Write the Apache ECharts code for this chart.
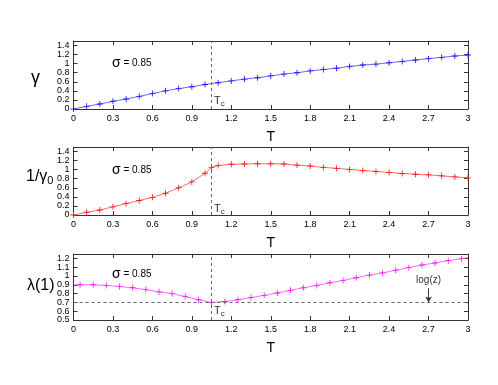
<!DOCTYPE html>
<html><head><meta charset="utf-8">
<script src="https://cdn.jsdelivr.net/npm/echarts@6/dist/echarts.min.js"></script>
<style>html,body{margin:0;padding:0;background:#fff}#c{width:498px;height:385px}</style>
</head><body><div id="c"></div>
<script>
// ---- data ----
var tGamma = [0,0.1,0.2,0.3,0.4,0.5,0.6,0.7,0.8,0.9,1.0,1.1,1.2,1.3,1.4,1.5,1.6,1.7,1.8,1.9,2.0,2.1,2.2,2.3,2.4,2.5,2.6,2.7,2.8,2.9,3.0];
var gamma = [0,0.059,0.11,0.17,0.22,0.28,0.34,0.40,0.45,0.49,0.54,0.58,0.62,0.66,0.69,0.73,0.77,0.80,0.84,0.87,0.90,0.94,0.97,0.99,1.02,1.05,1.08,1.11,1.14,1.17,1.19];
var tInv = [0,0.1,0.2,0.3,0.4,0.5,0.6,0.7,0.8,0.9,1.0,1.05,1.1,1.2,1.3,1.4,1.5,1.6,1.7,1.8,1.9,2.0,2.1,2.2,2.3,2.4,2.5,2.6,2.7,2.8,2.9,3.0];
var invGamma0 = [0,0.06,0.11,0.18,0.25,0.32,0.39,0.48,0.60,0.73,0.92,1.05,1.09,1.12,1.125,1.13,1.13,1.125,1.10,1.08,1.05,1.03,1.005,0.98,0.96,0.94,0.915,0.90,0.886,0.864,0.84,0.82];
var tLambda = [0,0.05,0.15,0.25,0.35,0.45,0.55,0.65,0.75,0.85,0.95,1.05,1.15,1.25,1.35,1.45,1.55,1.65,1.75,1.85,1.95,2.05,2.15,2.25,2.35,2.45,2.55,2.65,2.75,2.85,2.95,3.0];
var lambda1 = [0.90,0.90,0.90,0.893,0.88,0.867,0.845,0.82,0.80,0.766,0.73,0.70,0.71,0.73,0.755,0.78,0.807,0.837,0.867,0.893,0.923,0.95,0.98,1.01,1.035,1.065,1.095,1.125,1.148,1.174,1.197,1.21];
var xTicks = {min:0, max:3, interval:0.3};
var yRanges = [{min:0,max:1.5,interval:0.2},{min:0,max:1.5,interval:0.2},{min:0.5,max:1.25,interval:0.1}];
var Tc = 1.05, logz = 0.7;

var FONT = 'Liberation Sans';
var PLUS = 'path://M3,0H4V3H7V4H4V7H3V4H0V3H3Z';
var lineColors = ['#6b6bff','#ff6b6b','#ff6bff'];
var markColors = ['#1a1aff','#ff1a1a','#ff1aff'];
var grids = [
  {left:73.5, right:30, top:41, height:68},
  {left:73.5, right:30, top:147, height:68},
  {left:73.5, right:30, top:254, height:66}
];
var frame = {lineStyle:{color:'#333', width:1}};
var xAxes = [], yAxes = [], series = [];
function fmt(v, r){
  var k = Math.round((v - r.min)/r.interval);
  if (Math.abs(r.min + k*r.interval - v) > 1e-6) return '';
  return String(+v.toFixed(2));
}
grids.forEach(function(g, i){
  xAxes.push({type:'value', gridIndex:i, min:xTicks.min, max:xTicks.max, interval:xTicks.interval, position:'bottom',
    name:'T', nameLocation:'middle', nameGap:21, nameTextStyle:{fontFamily:FONT, fontSize:14, color:'#000'},
    axisLine:{show:true, onZero:false, lineStyle:frame.lineStyle}, axisTick:{inside:true, length:4, lineStyle:{color:'#333'}},
    axisLabel:{fontFamily:FONT, fontSize:9, color:'#000', margin:5, formatter:function(v){return fmt(v, xTicks);}}, splitLine:{show:false}});
  xAxes.push({type:'value', gridIndex:i, min:xTicks.min, max:xTicks.max, interval:xTicks.interval, position:'top',
    axisLine:{show:true, onZero:false, lineStyle:frame.lineStyle}, axisTick:{inside:true, length:4, lineStyle:{color:'#333'}},
    axisLabel:{show:false}, splitLine:{show:false}});
  var r = yRanges[i];
  yAxes.push({type:'value', gridIndex:i, min:r.min, max:r.max, interval:r.interval, position:'left',
    axisLine:{show:true, onZero:false, lineStyle:frame.lineStyle}, axisTick:{inside:true, length:4, lineStyle:{color:'#333'}},
    axisLabel:{fontFamily:FONT, fontSize:9, color:'#000', margin:4, formatter:(function(rr){return function(v){return fmt(v, rr);};})(r)}, splitLine:{show:false}});
  yAxes.push({type:'value', gridIndex:i, min:r.min, max:r.max, interval:r.interval, position:'right',
    axisLine:{show:true, onZero:false, lineStyle:frame.lineStyle}, axisTick:{inside:true, length:4, lineStyle:{color:'#333'}},
    axisLabel:{show:false}, splitLine:{show:false}});
});
var dashed = {color:'#666', width:1, type:[3,3]};
function mkSeries(i, ts, vs, extraMarks){
  var data = ts.map(function(t, k){
    var item = {value:[t, vs[k]]};
    if (i === 2 && (k === 0 || k === ts.length-1)) item.symbol = 'none';
    return item;
  });
  var ml = [{xAxis:Tc}].concat(extraMarks || []);
  return {type:'line', xAxisIndex:2*i, yAxisIndex:2*i, data:data, symbol:PLUS, symbolSize:6, showSymbol:true,
    lineStyle:{color:lineColors[i], width:1}, itemStyle:{color:markColors[i]}, animation:false, z:3,
    markLine:{silent:true, symbol:['none','none'], lineStyle:dashed, label:{show:false}, animation:false, data:ml}};
}
series.push(mkSeries(0, tGamma, gamma));
series.push(mkSeries(1, tInv, invGamma0));
series.push(mkSeries(2, tLambda, lambda1, [{yAxis:logz}]));
// log(z) arrow
series.push({type:'line', xAxisIndex:4, yAxisIndex:4, data:[], animation:false,
  markLine:{silent:true, animation:false, symbol:['none','arrow'], symbolSize:[5,6],
    lineStyle:{color:'#333', width:1, type:'solid'},
    label:{show:true, position:'start', formatter:'log(z)', fontFamily:FONT, fontSize:10, color:'#333', distance:3},
    data:[[{coord:[2.7,0.86]},{coord:[2.7,logz]}]]}});

var sig = {rich:{s:{fontFamily:FONT, fontSize:14, fill:'#000'}, t:{fontFamily:FONT, fontSize:10, fill:'#000'}}};
function sigmaText(y){
  return {type:'text', left:112, top:y-9, style:{text:'{s|σ}{t| = 0.85}', rich:sig.rich, fill:'#000'}};
}
function tcText(y){
  return {type:'text', left:214, top:y-7, style:{text:'{a|T}{b|c}', rich:{a:{fontFamily:FONT, fontSize:11, fill:'#333'}, b:{fontFamily:FONT, fontSize:8, fill:'#333', padding:[6,0,0,0]}}}};
}
var option = {
  animation:false,
  grid:grids, xAxis:xAxes, yAxis:yAxes, series:series,
  graphic:[
    {type:'text', left:31, top:69, style:{text:'γ', fontFamily:FONT, fontSize:18, fill:'#000'}},
    {type:'text', left:26, top:169, style:{text:'{a|1/γ}{b|0}', rich:{a:{fontFamily:FONT, fontSize:16, fill:'#000'}, b:{fontFamily:FONT, fontSize:11, fill:'#000', padding:[8,0,0,0]}}}},
    {type:'text', left:27, top:278, style:{text:'λ(1)', fontFamily:FONT, fontSize:16, fill:'#000'}},
    sigmaText(65), sigmaText(172), sigmaText(276),
    tcText(102), tcText(210), tcText(312)
  ]
};
var chart = echarts.init(document.getElementById('c'), null, {renderer:'canvas'});
chart.setOption(option);
</script></body></html>
